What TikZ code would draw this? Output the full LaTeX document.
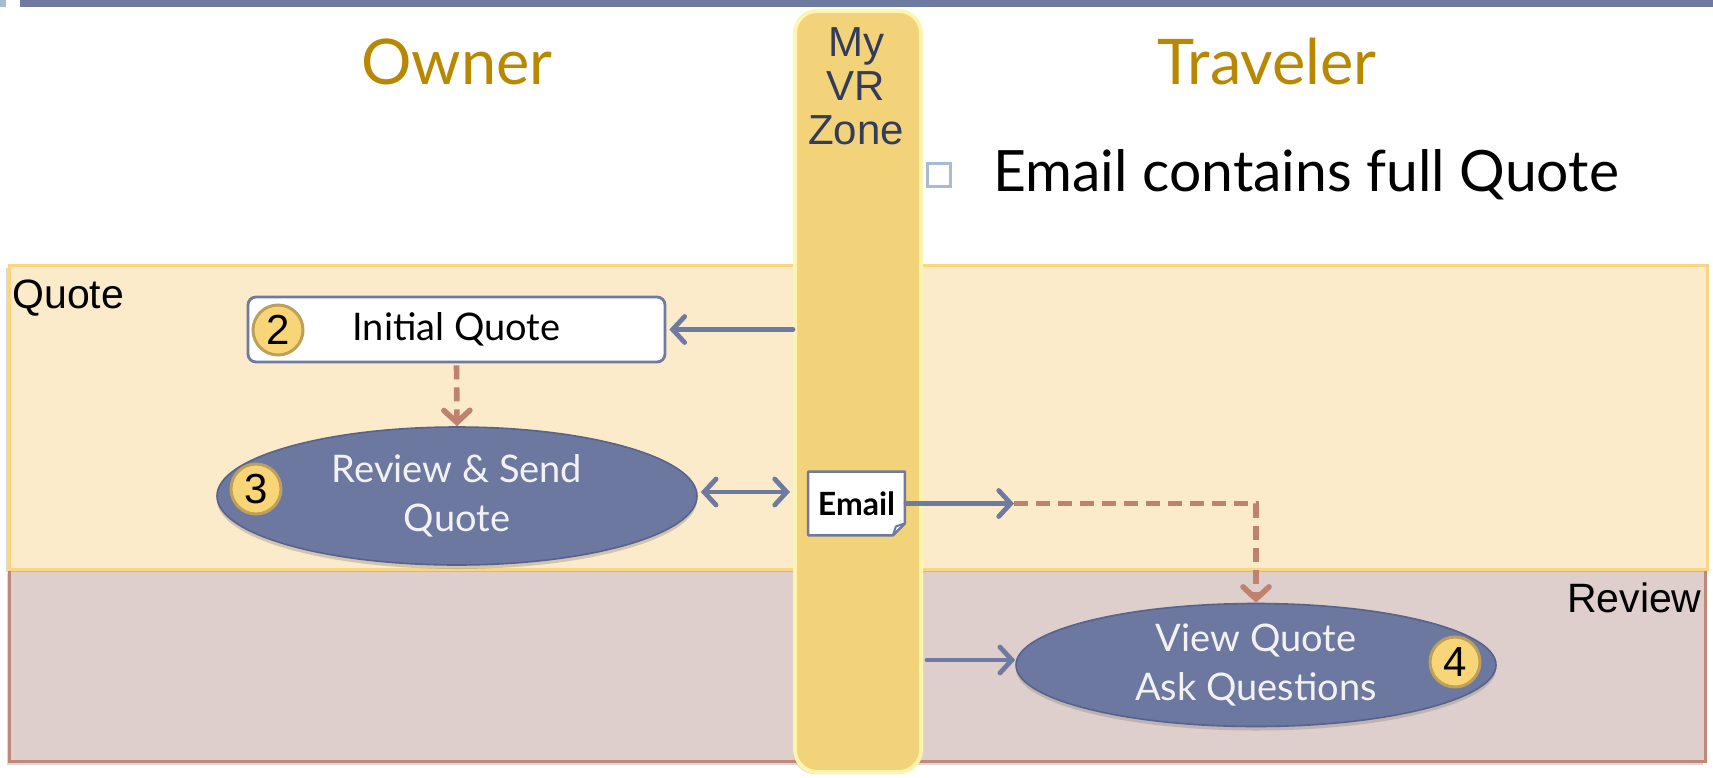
\documentclass[tikz,border=0pt]{standalone}
\usepackage{fontspec}
\setmainfont{Lato}
\newfontfamily\arialf{Liberation Sans}
\usetikzlibrary{shapes.geometric,arrows.meta,shadows}
\definecolor{mainblue}{RGB}{111,122,160}
\definecolor{procblue}{RGB}{108,120,160}
\definecolor{procedge}{RGB}{88,98,138}
\definecolor{goldtext}{RGB}{184,136,0}
\definecolor{zonefill}{RGB}{242,211,122}
\definecolor{zoneedge}{RGB}{255,244,176}
\definecolor{zonetextc}{RGB}{52,60,90}
\definecolor{qfill}{RGB}{252,235,203}
\definecolor{qborder}{RGB}{250,214,128}
\definecolor{rfill}{RGB}{223,207,204}
\definecolor{rborder}{RGB}{192,136,120}
\definecolor{brownline}{RGB}{190,130,110}
\definecolor{numfill}{RGB}{248,214,120}
\definecolor{numedge}{RGB}{190,160,90}
\definecolor{bulletc}{RGB}{165,188,212}
\definecolor{proctext}{RGB}{242,242,242}
\begin{document}
\begin{tikzpicture}[x=0.5pt,y=-0.5pt,
  band/.style={inner sep=0pt, anchor=north west, line width=1.3pt},
  qbandstyle/.style={band, fill=qfill, draw=qborder, drop shadow={shadow xshift=-1.5pt, shadow yshift=-1.5pt, opacity=0.3}},
  rbandstyle/.style={band, fill=rfill, draw=rborder, drop shadow={shadow xshift=-1pt, shadow yshift=-2pt, opacity=0.3}},
  zonestyle/.style={rectangle, rounded corners=11pt, fill=zonefill, draw=zoneedge, line width=2pt, inner sep=0pt,
    drop shadow={shadow xshift=-1pt, shadow yshift=-1pt, opacity=0.3}},
  zonetextstyle/.style={align=center, text=zonetextc, font=\arialf\fontsize{21}{22}\selectfont, inner sep=0pt},
  head/.style={text=goldtext, font=\fontsize{31.5}{36}\selectfont, inner sep=0pt},
  lanelabel/.style={font=\arialf\fontsize{20.5}{24}\selectfont, inner sep=0pt},
  bsq/.style={rectangle, draw=bulletc, line width=1.4pt, minimum size=11.5pt, inner sep=0pt},
  bullettext/.style={font=\fontsize{28.5}{32}\selectfont, inner sep=0pt},
  iqbox/.style={rectangle, rounded corners=4pt, fill=white, draw=mainblue, line width=1.4pt,
    font=\fontsize{19}{22}\selectfont, inner sep=0pt},
  proc/.style={ellipse, fill=procblue, draw=procedge, line width=0.8pt, align=center, text=proctext,
    font=\fontsize{19}{24.5}\selectfont, inner sep=0pt,
    drop shadow={shadow xshift=0pt, shadow yshift=-2pt, opacity=0.35}},
  num/.style={circle, fill=numfill, draw=numedge, line width=1.5pt, minimum size=25pt, inner sep=0pt,
    font=\arialf\fontsize{21}{24}\selectfont},
  docstyle/.style={fill=white, draw=mainblue, line width=1.2pt, line join=round},
  tipb/.tip={Straight Barb[length=6pt,width=13pt,line cap=round]},
  arr/.style={draw=mainblue, line width=2.4pt, line cap=round, -tipb},
  arrboth/.style={draw=mainblue, line width=2.4pt, line cap=round, tipb-tipb},
  dasharr/.style={draw=brownline, line width=2.8pt, dash pattern=on 7pt off 4pt, -tipb},
]
\useasboundingbox (0,0) rectangle (1713,777);
% top rule
\fill[mainblue] (20,0) rectangle (1713,7);
\fill[bulletc] (0,0) rectangle (6,7);
% lanes
\node[rbandstyle, minimum width=848pt, minimum height=96pt] (rband) at (8,568) {};
\node[qbandstyle, minimum width=849pt, minimum height=152pt] (qband) at (8,264) {};
\node[lanelabel, anchor=base west] (qlabel) at (12,308) {Quote};
\node[lanelabel, anchor=base east] (rlabel) at (1702,612) {Review};
% zone column
\node[zonestyle, minimum width=63pt, minimum height=380.5pt, anchor=north west] (zone) at (793,9) {};
\node[zonetextstyle] (zonetext) at (856,86) {My\\VR\\Zone};
% headings
\node[head] (owner) at (457,62) {Owner};
\node[head] (traveler) at (1267,62) {Traveler};
\node[bsq] (bsq) at (939,175) {};
\node[bullettext, anchor=west] (btext) at (993,175) {Email contains full Quote};
% owner side
\node[iqbox, minimum width=208.5pt, minimum height=32.5pt] (iq) at (456.5,329.5) {Initial Quote};
\node[num] (n2) at (278,330) {2};
\node[proc, minimum width=240pt, minimum height=69pt] (rs) at (457,496) {Review \& Send\\Quote};
\node[num] (n3) at (256,489) {3};
% email document
\node[minimum width=48pt, minimum height=31.5pt, inner sep=0pt] (emailbox) at (856.5,503.5) {};
\draw[docstyle] (emailbox.north west) -- (emailbox.north east) -- ([yshift=6pt]emailbox.south east)
  -- ([xshift=-6pt]emailbox.south east) -- (emailbox.south west) -- cycle;
\draw[draw=mainblue, line width=1pt, line join=round] ([xshift=-6pt]emailbox.south east) -- ([xshift=-4.5pt,yshift=4.5pt]emailbox.south east) -- ([yshift=6pt]emailbox.south east);
\node[font=\bfseries\fontsize{16}{18}\selectfont, inner sep=0pt] (email) at (emailbox.center) {Email};
\coordinate (turn) at (1014,503.5);
% traveler side
\node[proc, minimum width=240pt, minimum height=61.5pt] (vq) at (1256,665) {View Quote\\Ask Questions};
\node[num] (n4) at (1455,662) {4};
% connectors
\draw[arr] (iq.east -| zone.west) -- ([xshift=1.5pt]iq.east);
\draw[dasharr] ([yshift=-1pt]iq.south) -- (rs.north);
\draw[arrboth] ([xshift=1.5pt,yshift=2pt]rs.east) -- ([xshift=-1.5pt,yshift=2pt]rs.east -| zone.west);
\draw[arr] ([xshift=0.5pt]emailbox.east) -- (turn);
\draw[dasharr] (turn) -| (vq.north);
\draw[arr] ([xshift=2pt,yshift=2.5pt]vq.west -| zone.east) -- ([yshift=2.5pt]vq.west);
\end{tikzpicture}
\end{document}
